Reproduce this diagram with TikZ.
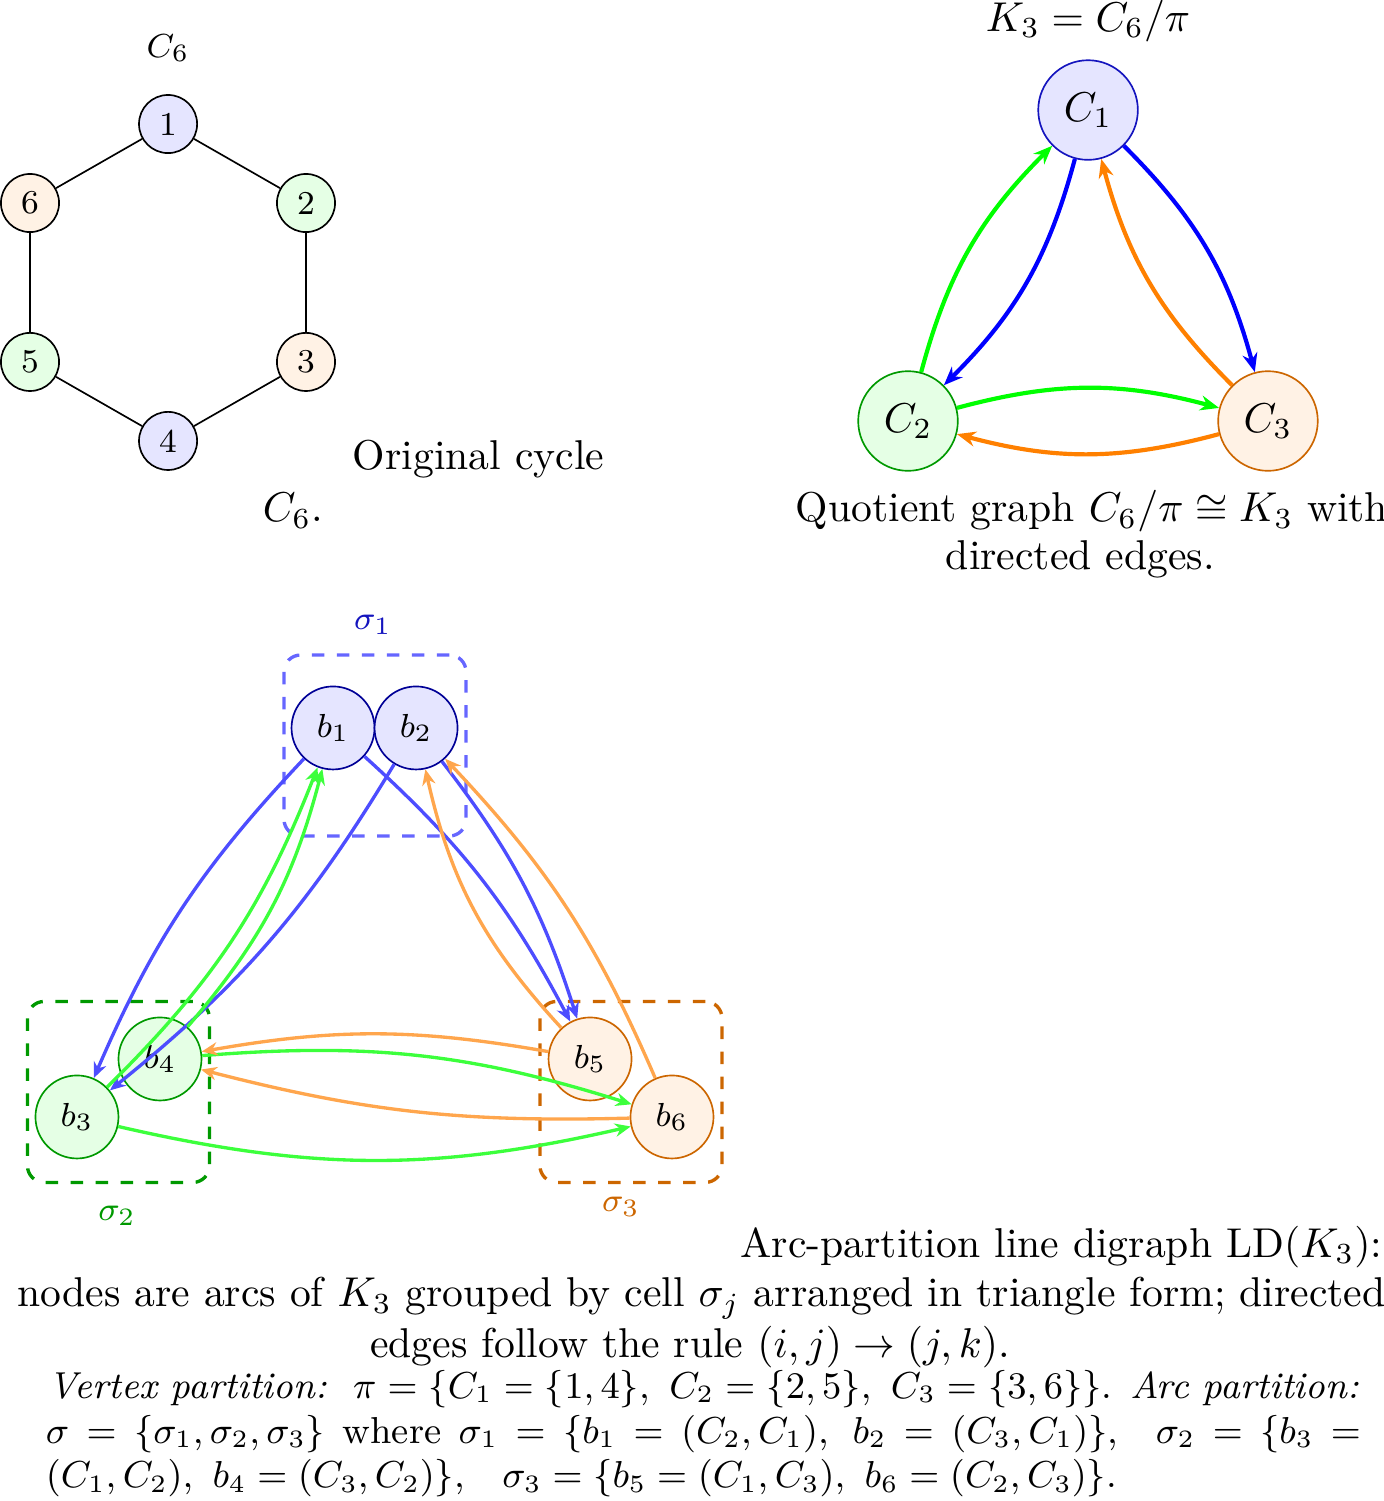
\documentclass[tikz,border=0pt]{standalone}
\usepackage{amsmath,amssymb}
\usetikzlibrary{arrows.meta,positioning}
\definecolor{cellblue}{RGB}{102,102,255}
\definecolor{cellgreen}{RGB}{0,153,0}
\definecolor{cellorange}{RGB}{204,102,0}
\definecolor{arcblue}{RGB}{77,77,255}
\definecolor{arcgreen}{RGB}{60,255,60}
\definecolor{arcorange}{RGB}{255,166,77}
\definecolor{inkblue}{RGB}{20,20,190}
\definecolor{inknavy}{RGB}{0,0,150}

\begin{document}
\begin{tikzpicture}[
  cyc/.style={circle, draw=black, minimum size=0.49cm, inner sep=0pt, font=\footnotesize},
  quot/.style={circle, minimum size=0.84cm, inner sep=0pt},
  arcnode/.style={circle, minimum size=0.70cm, inner sep=0pt, font=\footnotesize},
  cellbox/.style={dashed, thick, rounded corners=4pt, minimum width=1.535cm, minimum height=1.526cm},
  qedge/.style={line width=1pt, -{Stealth[length=4.5pt,width=3.6pt]}, bend left=15},
  ledge/.style={thick, -{Stealth[length=3.8pt,width=3.2pt]}},
  caption/.style={inner sep=0pt}
]
\useasboundingbox (0,0) rectangle (11.661,12.656);

% original cycle
\node[font=\footnotesize] (cyclabel) at (1.417,12.251) {$C_6$};
\node[cyc, fill=blue!10] (n1) at (1.417,11.610) {1};
\node[cyc, fill=green!10] (n2) at (2.580,10.944) {2};
\node[cyc, fill=orange!10] (n3) at (2.580,9.604) {3};
\node[cyc, fill=blue!10] (n4) at (1.417,8.938) {4};
\node[cyc, fill=green!10] (n5) at (0.253,9.604) {5};
\node[cyc, fill=orange!10] (n6) at (0.253,10.944) {6};
\draw (n1) -- (n2) -- (n3) -- (n4) -- (n5) -- (n6) -- (n1);
\node[caption, anchor=base west] (cyccap) at (2.968,8.693) {Original cycle};
\node[caption, anchor=base west] (cyccaptwo) at (2.209,8.255) {$C_6$.};

% quotient graph
\node[caption, anchor=base] (quotlabel) at (9.174,12.39) {$K_3 = C_6/\pi$};
\node[quot, draw=inkblue, fill=blue!10] (cone) at (9.174,11.728) {$C_1$};
\node[quot, draw=cellgreen, fill=green!10] (ctwo) at (7.656,9.106) {$C_2$};
\node[quot, draw=cellorange, fill=orange!10] (cthree) at (10.691,9.106) {$C_3$};
\draw[qedge, blue] (cone) to (ctwo);
\draw[qedge, blue] (cone) to (cthree);
\draw[qedge, green] (ctwo) to (cone);
\draw[qedge, green] (ctwo) to (cthree);
\draw[qedge, orange] (cthree) to (cone);
\draw[qedge, orange] (cthree) to (ctwo);
\node[caption, anchor=base west] (quotcap) at (6.703,8.255) {Quotient graph $C_6/\pi \cong K_3$ with};
\node[caption, anchor=base west] (quotcaptwo) at (7.968,7.850) {directed edges.};

% arc-partition line digraph
\node[cellbox, draw=cellblue] (cellone) at (3.162,6.370) {};
\node[cellbox, draw=cellgreen] (celltwo) at (0.999,3.449) {};
\node[cellbox, draw=cellorange] (cellthree) at (5.320,3.449) {};
\node[font=\footnotesize, text=inkblue] (sigone) at (3.145,7.386) {$\sigma_1$};
\node[font=\footnotesize, text=cellgreen] (sigtwo) at (0.987,2.403) {$\sigma_2$};
\node[font=\footnotesize, text=cellorange] (sigthree) at (5.236,2.479) {$\sigma_3$};

\node[arcnode, draw=inknavy, fill=blue!10] (bone) at (2.808,6.518) {$b_1$};
\node[arcnode, draw=inknavy, fill=blue!10] (btwo) at (3.508,6.518) {$b_2$};
\node[arcnode, draw=cellgreen, fill=green!10] (bthree) at (0.649,3.238) {$b_3$};
\node[arcnode, draw=cellgreen, fill=green!10] (bfour) at (1.349,3.727) {$b_4$};
\node[arcnode, draw=cellorange, fill=orange!10] (bfive) at (4.975,3.727) {$b_5$};
\node[arcnode, draw=cellorange, fill=orange!10] (bsix) at (5.666,3.238) {$b_6$};

\draw[ledge, arcblue] (bone) to[bend right=10] (bthree);
\draw[ledge, arcblue] (bone) to[bend left=10] (bfive);
\draw[ledge, arcblue] (btwo) to[bend left=10] (bthree);
\draw[ledge, arcblue] (btwo) to[bend left=10] (bfive);
\draw[ledge, arcgreen] (bthree) to[bend right=12] (bone);
\draw[ledge, arcgreen] (bthree) to[bend right=13] (bsix);
\draw[ledge, arcgreen] (bfour) to[bend right=13] (bone);
\draw[ledge, arcgreen] (bfour) to[bend left=11] (bsix);
\draw[ledge, arcorange] (bfive) to[bend left=15] (btwo);
\draw[ledge, arcorange] (bfive) to[bend right=10] (bfour);
\draw[ledge, arcorange] (bsix) to[bend right=10] (btwo);
\draw[ledge, arcorange] (bsix) to[bend left=8] (bfour);

\node[caption, anchor=base east] (ldcap) at (11.661,2.057) {Arc-partition line digraph $\mathrm{LD}(K_3)$:};
\node[caption, anchor=base] (ldcaptwo) at (5.915,1.636) {nodes are arcs of $K_3$ grouped by cell $\sigma_j$ arranged in triangle form; directed};
\node[caption, anchor=base] (ldcapthree) at (5.818,1.214) {edges follow the rule $(i,j)\to(j,k)$.};

\node[caption, anchor=base west, font=\small] (partone) at (0.405,0.868)
  {\makebox[11.046cm][s]{\textit{Vertex partition:}\ \ $\pi=\{C_1=\{1,4\},\ C_2=\{2,5\},\ C_3=\{3,6\}\}$. \textit{Arc partition:}}};
\node[caption, anchor=base west, font=\small] (parttwo) at (0.379,0.489)
  {\makebox[11.088cm][s]{$\sigma$ $=$ $\{\sigma_1,\sigma_2,\sigma_3\}$ where $\sigma_1$ $=$ $\{b_1$ $=$ $(C_2,C_1),\ b_2$ $=$ $(C_3,C_1)\}$,\quad $\sigma_2$ $=$ $\{b_3$ $=$}};
\node[caption, anchor=base west, font=\small] (partthree) at (0.379,0.110)
  {$(C_1,C_2),\ b_4=(C_3,C_2)\}$,\quad $\sigma_3=\{b_5=(C_1,C_3),\ b_6=(C_2,C_3)\}$.};
\end{tikzpicture}
\end{document}
